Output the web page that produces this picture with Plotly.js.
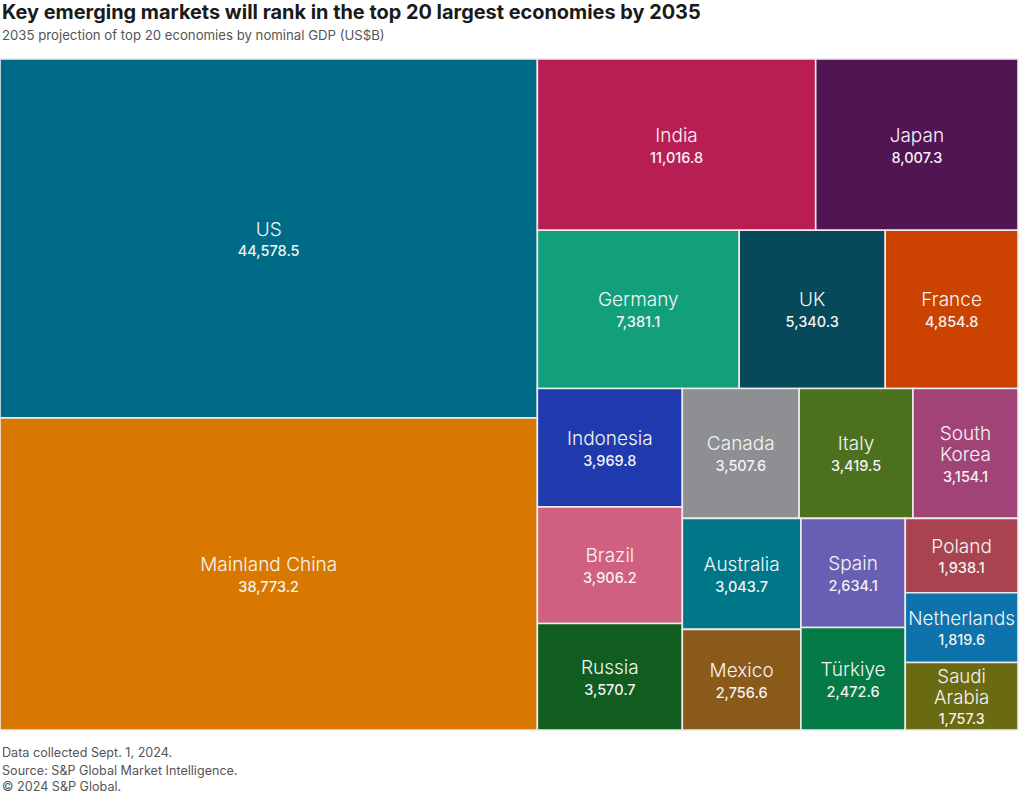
<!DOCTYPE html>
<html>
<head>
<meta charset="utf-8">
<script src="https://cdn.plot.ly/plotly-3.0.1.min.js"></script>
<style>
  html, body { margin: 0; padding: 0; background: #ffffff; }
  #chart { width: 1020px; height: 794px; }
</style>
</head>
<body>
<div id="chart"></div>
<script>
const countries = ["US", "Mainland China", "India", "Japan", "Germany", "UK", "France",
  "Indonesia", "Brazil", "Russia", "Canada", "Italy", "South Korea", "Australia",
  "Mexico", "Spain", "Türkiye", "Poland", "Netherlands", "Saudi Arabia"];
const displayNames = ["US", "Mainland China", "India", "Japan", "Germany", "UK", "France",
  "Indonesia", "Brazil", "Russia", "Canada", "Italy", "South<br>Korea", "Australia",
  "Mexico", "Spain", "Türkiye", "Poland", "Netherlands", "Saudi<br>Arabia"];
const gdp2035 = [44578.5, 38773.2, 11016.8, 8007.3, 7381.1, 5340.3, 4854.8,
  3969.8, 3906.2, 3570.7, 3507.6, 3419.5, 3154.1, 3043.7,
  2756.6, 2634.1, 2472.6, 1938.1, 1819.6, 1757.3];
const tileColors = ["#006b87", "#d97800", "#b81e54", "#501552", "#12a07c", "#05495a", "#cc4200",
  "#1e3aad", "#d06080", "#115c1f", "#8e8f93", "#4b701e", "#a24378", "#007788",
  "#8a5a1a", "#665fb3", "#057a46", "#a8434f", "#0e73ad", "#6a6a12"];

const FONT = "Inter, Roboto, 'Open Sans', sans-serif";

const trace = {
  type: "treemap",
  labels: countries,
  parents: countries.map(() => ""),
  values: gdp2035,
  text: displayNames,
  sort: true,
  tiling: { packing: "squarify", squarifyratio: 1, pad: 0 },
  marker: {
    colors: tileColors,
    line: { color: "#ececec", width: 1.6 },
    pad: { t: 0, l: 0, r: 0, b: 0 }
  },
  pathbar: { visible: false },
  textposition: "middle center",
  texttemplate: "<span style='font-weight:300;font-size:19px'>%{text}</span><br><span style='font-weight:500;font-size:14.5px'>%{value:,.1f}</span>",
  textfont: { family: FONT, size: 16, color: "#f4f4f4" },
  hoverinfo: "label+value"
};

const layout = {
  width: 1020,
  height: 794,
  margin: { l: 0, r: 2, t: 59, b: 64 },
  paper_bgcolor: "#ffffff",
  font: { family: FONT, color: "#222" },
  title: {
    text: "<b>Key emerging markets will rank in the top 20 largest economies by 2035</b>",
    x: 0.002, xref: "container", xanchor: "left",
    y: 1 - 12 / 794, yref: "container", yanchor: "middle",
    font: { size: 19.9, color: "#1a1a1a", family: FONT }
  },
  annotations: [
    { text: "2035 projection of top 20 economies by nominal GDP (US$B)", xref: "paper", yref: "paper",
      x: 0, y: 1 + 24 / 671, xanchor: "left", yanchor: "middle", showarrow: false,
      font: { size: 13.2, color: "#555", family: FONT } },
    { text: "Data collected Sept. 1, 2024.", xref: "paper", yref: "paper",
      x: 0, y: -23 / 671, xanchor: "left", yanchor: "middle", showarrow: false,
      font: { size: 12.6, color: "#555", family: FONT } },
    { text: "Source: S&P Global Market Intelligence.", xref: "paper", yref: "paper",
      x: 0, y: -40 / 671, xanchor: "left", yanchor: "middle", showarrow: false,
      font: { size: 12.6, color: "#555", family: FONT } },
    { text: "© 2024 S&P Global.", xref: "paper", yref: "paper",
      x: 0, y: -56 / 671, xanchor: "left", yanchor: "middle", showarrow: false,
      font: { size: 12.6, color: "#555", family: FONT } }
  ]
};

Plotly.newPlot("chart", [trace], layout, { displayModeBar: false });
</script>
</body>
</html>
